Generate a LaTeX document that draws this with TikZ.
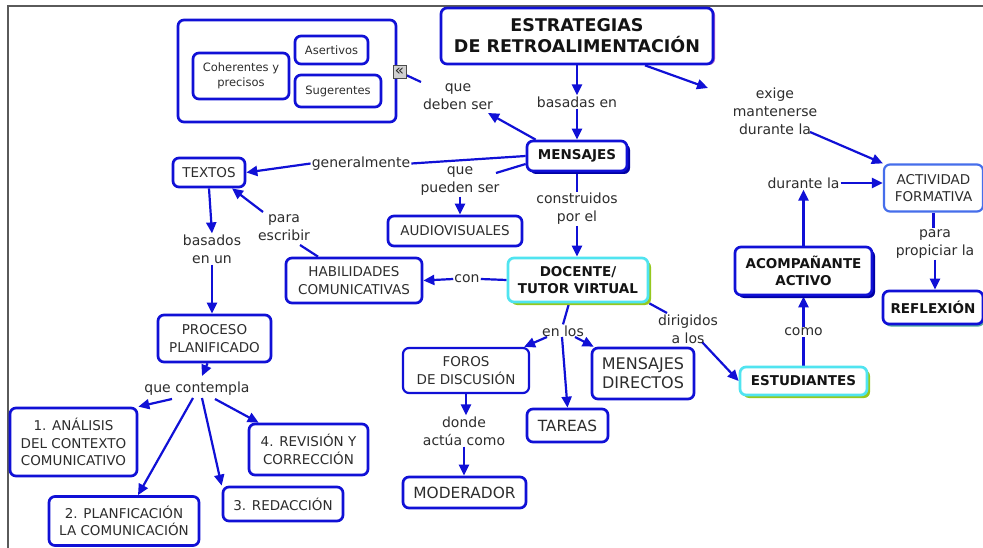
\documentclass[tikz,border=0pt]{standalone}
\usepackage{fontspec}
\setmainfont{DejaVu Sans}
\usetikzlibrary{arrows.meta,shadows,calc}
\definecolor{cblue}{RGB}{16,16,214}
\definecolor{lblue}{RGB}{70,110,235}
\definecolor{shblue}{RGB}{0,0,165}
\definecolor{cyanb}{RGB}{80,228,240}
\definecolor{greensh}{RGB}{150,200,30}
\definecolor{purplesh}{RGB}{175,95,205}
\definecolor{tealsh}{RGB}{80,170,160}
\definecolor{txtgray}{RGB}{45,45,45}
\definecolor{txtdark}{RGB}{20,20,20}
\definecolor{framegray}{RGB}{90,90,90}
\pgfdeclarelayer{back}
\pgfdeclarelayer{bg}
\pgfsetlayers{back,bg,main}
\tikzset{
  box/.style={draw=cblue, line width=2.7pt, rounded corners=6pt, fill=white, align=center,
    text=txtgray, inner sep=0pt, font=\fontsize{13.5}{17.5}\selectfont},
  boldbox/.style={box, text=txtdark, font=\fontsize{13.5}{17}\selectfont\bfseries},
  titlefont/.style={font=\fontsize{17.5}{21}\selectfont\bfseries},
  smalltext/.style={font=\fontsize{11.5}{14.5}\selectfont},
  midfont/.style={font=\fontsize{15.4}{18}\selectfont},
  bigfont/.style={font=\fontsize{16}{19}\selectfont},
  shdark/.style={general shadow={fill=shblue, shadow xshift=3pt, shadow yshift=-3pt}},
  cyanbox/.style={draw=cyanb, general shadow={fill=greensh, shadow xshift=3pt, shadow yshift=-3pt}},
  titlesh/.style={general shadow={fill=purplesh, shadow xshift=2pt, shadow yshift=-1pt}},
  tealshadow/.style={general shadow={fill=tealsh, shadow xshift=1.5pt, shadow yshift=-2.5pt}},
  iconbox/.style={draw=black!70, fill=black!18, line width=1pt, inner sep=0pt,
    text=black!85, font=\fontsize{15}{15}\selectfont},
  lbl/.style={align=center, text=txtgray, inner sep=1pt, font=\fontsize{14}{18}\selectfont},
  conn/.style={draw=cblue, line width=2.2pt},
  arr/.style={conn, -{Triangle[length=11pt,width=10pt]}},
  sz/.style 2 args={minimum width=#1pt, minimum height=#2pt},
}
\begin{document}
\begin{tikzpicture}[x=1pt,y=-1pt]
\useasboundingbox (0,0) rectangle (983,548);
\begin{pgfonlayer}{back}
\fill[white] (0,0) rectangle (983,548);
\draw[framegray, line width=2pt] (8,548) -- (8,6.5) -- (983,6.5);
\end{pgfonlayer}

% container group
\node[box, sz={218}{102}] (cont) at (287,71) {};
\node[box, smalltext, sz={96}{46}] (coher) at (241,76) {Coherentes y\\precisos};
\node[box, smalltext, sz={73}{28}] (asert) at (331.5,50) {Asertivos};
\node[box, smalltext, sz={86}{32}] (suger) at (338,91) {Sugerentes};
\node[iconbox, sz={13}{13}, text height=7pt, text depth=0pt] (icon) at (399.5,72) {«};

% concepts
\node[boldbox, titlefont, titlesh, sz={272}{56}] (title) at (577,36) {ESTRATEGIAS\\DE RETROALIMENTACIÓN};
\node[boldbox, shdark, sz={100}{30}] (msg) at (577,156) {MENSAJES};
\node[box, sz={72}{29}] (texts) at (209,172.5) {TEXTOS};
\node[box, sz={134}{30}] (audio) at (455,231) {AUDIOVISUALES};
\node[box, sz={136}{45}] (habil) at (354,280.5) {HABILIDADES\\COMUNICATIVAS};
\node[boldbox, cyanbox, sz={140}{44}] (docente) at (578,280) {DOCENTE/\\TUTOR VIRTUAL};
\node[box, sz={113}{47}] (proceso) at (214.5,338.5) {PROCESO\\PLANIFICADO};
\node[box, sz={127}{68}] (analisis) at (73.5,442) {1. ANÁLISIS\\DEL CONTEXTO\\COMUNICATIVO};
\node[box, sz={150}{49}] (planif) at (124,521) {2. PLANFICACIÓN\\LA COMUNICACIÓN};
\node[box, sz={120}{34}] (redac) at (283,504) {3. REDACCIÓN};
\node[box, sz={119}{51}] (revis) at (308.5,449.5) {4. REVISIÓN Y\\CORRECCIÓN};
\node[box, line width=2.2pt, sz={126}{45}] (foros) at (466,370.5) {FOROS\\DE DISCUSIÓN};
\node[box, midfont, sz={81}{33}] (tareas) at (567.5,425.5) {TAREAS};
\node[box, bigfont, sz={102}{51}] (mdir) at (643,373.5) {MENSAJES\\DIRECTOS};
\node[box, midfont, sz={123}{31}] (moder) at (464.5,492.5) {MODERADOR};
\node[boldbox, cyanbox, sz={127}{28}] (estud) at (803.5,381) {ESTUDIANTES};
\node[boldbox, shdark, sz={137}{48}] (acomp) at (803.5,271) {ACOMPAÑANTE\\ACTIVO};
\node[box, draw=lblue, line width=2.2pt, sz={99}{47}] (activ) at (933.5,188) {ACTIVIDAD\\FORMATIVA};
\node[boldbox, tealshadow, sz={100}{33}] (reflex) at (933,307.5) {REFLEXIÓN};

% linking phrases
\node[lbl] (lbasadas) at (577,102) {basadas en};
\node[lbl] (lexige) at (775,111) {exige\\mantenerse\\durante la};
\node[lbl] (ldeben) at (458,97) {que\\deben ser};
\node[lbl] (lgeneral) at (361,163.5) {generalmente};
\node[lbl] (lpueden) at (460,181) {que\\pueden ser};
\node[lbl] (lconstr) at (577,209) {construidos\\por el};
\node[lbl] (lcon) at (467,279) {con};
\node[lbl] (lpara) at (284,228) {para\\escribir};
\node[lbl] (lbasados) at (212,249) {basados\\en un};
\node[lbl] (lcontempla) at (197,389) {que contempla};
\node[lbl] (lenlos) at (563,331) {en los};
\node[lbl] (ldonde) at (464,431) {donde\\actúa como};
\node[lbl] (ldirig) at (688,329) {dirigidos\\a los};
\node[lbl] (lcomo) at (803.5,332) {como};
\node[lbl] (ldurante) at (803.5,183) {durante la};
\node[lbl] (lpropiciar) at (935,244) {para\\propiciar la};

\begin{pgfonlayer}{bg}
\draw[arr] (title.south) -- (lbasadas.north);
\draw[arr] (lbasadas.south) -- (msg.north);
\draw[arr] ($(title.south)+(68,0)$) -- ($(lexige.center)+(-67,-23)$);
\draw[arr] ($(lexige.center)+(35,21)$) -- (activ.north west);
\draw[arr] ($(msg.north west)+(10,0)$) -- ($(ldeben.center)+(30,16)$);
\draw[conn] ($(ldeben.center)+(-37,-15)$) -- (icon);
\draw[conn] (msg.west) -- (lgeneral.east);
\draw[arr] (lgeneral.west) -- (texts.east);
\draw[conn] ($(msg.west)+(0,8)$) -- ($(lpueden.center)+(36,-8)$);
\draw[arr] (lpueden.south) -- (lpueden.south |- audio.north);
\draw[conn] (msg.south) -- (lconstr.north);
\draw[arr] (lconstr.south) -- (lconstr.south |- docente.north);
\draw[conn] (docente.west) -- (lcon.east);
\draw[arr] (lcon.west) -- (habil.east);
\draw[conn] ($(habil.north)+(-36,0)$) -- ($(lpara.center)+(16,17)$);
\draw[arr] ($(lpara.center)+(-21,-16)$) -- ($(texts.south)+(23,0)$);
\draw[arr] (texts.south) -- (lbasados.north);
\draw[arr] (lbasados.south) -- (lbasados.south |- proceso.north);
\draw[arr] ($(proceso.south)+(-7,0)$) -- ($(lcontempla.center)+(5,-13)$);
\draw[arr] ($(lcontempla.center)+(-25,10)$) -- (analisis.north east);
\draw[arr] ($(lcontempla.center)+(-4,9)$) -- ($(planif.north)+(14,0)$);
\draw[arr] ($(lcontempla.center)+(5,9)$) -- (redac.north west);
\draw[arr] ($(lcontempla.center)+(18,10)$) -- ($(revis.north west)+(11,0)$);
\draw[conn] ($(docente.south)+(-9,0)$) -- (lenlos.north);
\draw[arr] ($(lenlos.center)+(-16,6)$) -- ($(foros.north east)+(-6,0)$);
\draw[arr] ($(lenlos.center)+(-1,6)$) -- (tareas.north);
\draw[arr] ($(lenlos.center)+(12,6)$) -- ($(mdir.north west)+(3,0)$);
\draw[arr] (foros.south) -- (foros.south |- ldonde.north);
\draw[arr] (ldonde.south) -- (ldonde.south |- moder.north);
\draw[conn] (docente.south east) -- ($(ldirig.center)+(-21,-16)$);
\draw[arr] ($(ldirig.center)+(14,13)$) -- (estud.west);
\draw[conn] (estud.north) -- (lcomo.south);
\draw[arr] (lcomo.north) -- (acomp.south);
\draw[arr] (acomp.north) -- (ldurante.south);
\draw[arr] (ldurante.east) -- (ldurante.east -| activ.west);
\draw[conn] (activ.south) -- (activ.south |- lpropiciar.north);
\draw[arr] (lpropiciar.south) -- (lpropiciar.south |- reflex.north);
\end{pgfonlayer}
\end{tikzpicture}
\end{document}
